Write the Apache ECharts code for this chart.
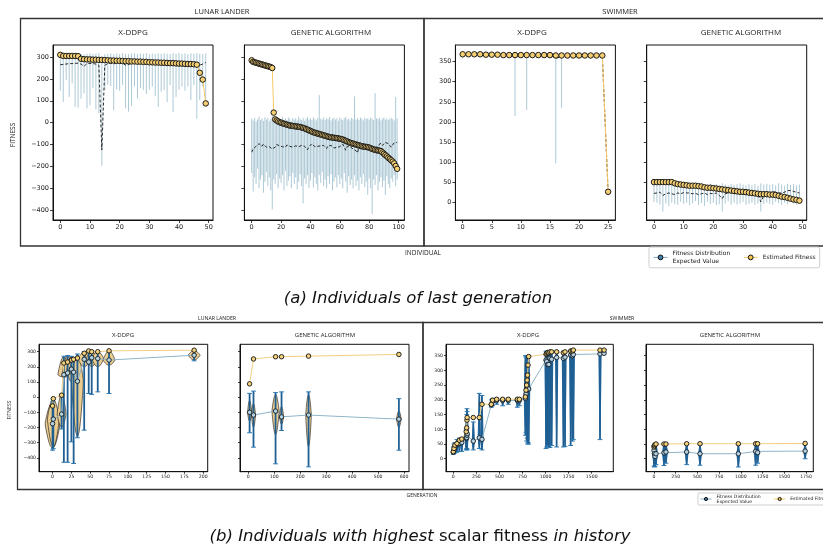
<!DOCTYPE html>
<html>
<head>
<meta charset="utf-8">
<script src="https://cdn.jsdelivr.net/npm/echarts@6/dist/echarts.min.js"></script>
<style>
  html, body { margin: 0; padding: 0; background: #fff; }
  #chart { width: 823px; height: 548px; }
</style>
</head>
<body>
<div id="chart"></div>
<script>
// ---------- (a) individuals of last generation ----------
const lunarFitTicks = [-400, -300, -200, -100, 0, 100, 200, 300];
const swimFitTicks = [0, 50, 100, 150, 200, 250, 300, 350];
const indivTicks50 = [0, 10, 20, 30, 40, 50];
const indivTicks100 = [0, 20, 40, 60, 80, 100];
const indivTicks25 = [0, 5, 10, 15, 20, 25];

const lunarDdpgEst = [
  310, 305, 305, 305, 305, 305, 304, 292, 290, 289,
  289, 288, 288, 287, 287, 286, 285, 284, 284, 283,
  283, 282, 281, 281, 280, 280, 279, 279, 278, 278,
  276, 276, 275, 275, 274, 274, 273, 272, 272, 271,
  270, 270, 269, 268, 268, 267, 265, 228, 197, 88];
const lunarDdpgExp = [
  265, 266, 268, 270, 270, 271, 272, 268, 258, 270,
  271, 270, 268, 262, -125, 262, 270, 272, 268, 274,
  270, 272, 262, 266, 270, 272, 268, 274, 272, 276,
  272, 276, 274, 270, 272, 268, 270, 266, 262, 268,
  270, 266, 268, 264, 266, 262, 262, 263, 268, 276];
const lunarDdpgLow = [
  146, 95, 195, 118, 180, 72, 69, 110, 134, 65,
  80, 157, 60, 42, -197, 150, 172, 168, 57, 152,
  146, 172, 65, 50, 75, 165, 110, 157, 150, 131,
  150, 165, 122, 72, 142, 150, 95, 172, 49, 118,
  150, 165, 146, 165, 103, 172, 18, 103, 165, 103];
const lunarDdpgHigh = [
  312, 316, 314, 318, 315, 313, 316, 314, 312, 315,
  317, 314, 316, 318, 300, 313, 315, 317, 312, 316,
  314, 318, 315, 313, 316, 317, 314, 316, 315, 318,
  313, 316, 314, 317, 315, 318, 316, 314, 318, 315,
  320, 314, 316, 313, 317, 315, 318, 316, 314, 317];

const lunarGaEst = [
  285, 278, 276, 274, 272, 270, 268, 266, 264, 262,
  260, 258, 256, 254, 250, 46, 15, 10, 6, 2,
  0, -3, -5, -7, -9, -11, -13, -14, -15, -16,
  -17, -18, -19, -20, -22, -24, -26, -29, -32, -35,
  -38, -41, -44, -46, -48, -50, -52, -54, -56, -58,
  -60, -62, -64, -66, -67, -68, -69, -70, -71, -72,
  -74, -75, -77, -80, -83, -86, -89, -92, -94, -96,
  -98, -100, -102, -104, -106, -108, -109, -110, -111, -112,
  -114, -117, -120, -122, -124, -126, -127, -128, -130, -136,
  -142, -148, -154, -160, -166, -172, -178, -186, -198, -211];
const lunarGaExp = [
  -135, -120, -112, -108, -100, -96, -102, -108, -98, -104,
  -112, -118, -110, -104, -120, -128, -112, -100, -98, -106,
  -104, -110, -118, -112, -102, -96, -108, -104, -112, -118,
  -106, -100, -110, -114, -104, -98, -108, -112, -124, -110,
  -102, -96, -104, -110, -116, -108, -100, -106, -112, -104,
  -110, -118, -106, -98, -104, -110, -116, -108, -112, -120,
  -110, -104, -98, -112, -126, -108, -102, -110, -114, -120,
  -118, -128, -138, -112, -106, -110, -116, -104, -112, -108,
  -114, -122, -110, -106, -118, -112, -104, -98, -94, -104,
  -110, -90, -88, -96, -100, -112, -104, -92, -100, -90];
const lunarGaLow = [
  -230, -315, -250, -280, -210, -300, -260, -240, -320, -270,
  -225, -290, -250, -310, -397, -260, -280, -235, -300, -255,
  -275, -240, -310, -220, -290, -265, -245, -300, -230, -280,
  -250, -305, -270, -235, -290, -369, -255, -280, -240, -300,
  -265, -230, -295, -250, -280, -310, -240, -275, -225, -290,
  -260, -300, -245, -280, -235, -310, -270, -250, -295, -240,
  -280, -255, -300, -230, -270, -320, -245, -285, -260, -300,
  -240, -290, -265, -310, -250, -280, -235, -295, -270, -330,
  -255, -300, -417, -260, -285, -240, -310, -270, -250, -295,
  -265, -330, -245, -280, -300, -255, -270, -240, -290, -260];
const lunarGaHigh = [
  18, 10, 22, 5, 15, 28, 12, 20, 8, 25,
  14, 22, 6, 18, 30, 12, 24, 10, 20, 16,
  8, 26, 14, 20, 12, 24, 18, 6, 22, 14,
  20, 10, 28, 16, 12, 22, 8, 18, 26, 14,
  20, 12, 24, 16, 10, 22, 126, 18, 14, 24,
  12, 20, 16, 26, 10, 18, 22, 14, 20, 8,
  24, 16, 12, 20, 26, 14, 18, 10, 22, 16,
  120, 14, 20, 12, 24, 18, 10, 22, 16, 20,
  14, 24, 18, 12, 135, 20, 16, 22, 10, 18,
  24, 14, 20, 12, 18, 22, 16, 10, 117, 20];

const swimDdpgEst = [368, 368, 368, 368, 367, 367, 367, 366, 366, 366, 366, 366, 366,
  366, 366, 366, 365, 365, 365, 365, 365, 365, 365, 365, 365, 27];
const swimDdpgExp = [366, 366, 366, 366, 366, 366, 366, 366, 366, 362, 366, 364, 366,
  366, 366, 366, 358, 362, 366, 366, 366, 366, 366, 366, 365, 25];
const swimDdpgLow = [360, 362, 362, 362, 362, 362, 362, 362, 362, 215, 362, 230, 362,
  362, 362, 362, 98, 235, 362, 362, 362, 362, 362, 362, 358, 18];
const swimDdpgHigh = [372, 372, 372, 372, 371, 371, 371, 371, 371, 371, 371, 371, 371,
  371, 371, 371, 371, 371, 371, 371, 371, 371, 371, 371, 371, 32];

const swimGaEst = [
  51, 51, 51, 51, 51, 51, 51, 48, 46, 45,
  44, 43, 42, 42, 42, 41, 40, 38, 37, 37,
  36, 35, 34, 33, 32, 31, 30, 29, 28, 27,
  27, 26, 25, 24, 23, 22, 21, 21, 21, 20,
  20, 19, 17, 15, 14, 12, 10, 8, 7, 5];
const swimGaExp = [
  23, 24, 26, 18, 22, 24, 22, 20, 24, 22,
  25, 24, 24, 22, 23, 20, 22, 24, 20, 23,
  22, 24, 18, 10, 22, 24, 26, 22, 24, 25,
  24, 22, 23, 24, 22, 20, 2, 18, 22, 24,
  28, 26, 24, 24, 26, 30, 30, 28, 26, 24];
const swimGaLow = [
  2, 0, -5, -22, -2, -8, 0, -4, -6, 2,
  -3, 0, -6, -2, 4, -5, -1, -8, 2, -3,
  0, -6, -4, -22, -2, 3, -5, 0, -4, -2,
  2, -6, -3, 0, -5, -2, -22, -4, 0, -3,
  -5, 2, -2, -6, 0, -4, 3, -2, -5, 0];
const swimGaHigh = [
  46, 44, 48, 42, 45, 47, 43, 46, 44, 48,
  45, 43, 47, 44, 46, 42, 48, 45, 43, 47,
  44, 46, 42, 48, 45, 43, 47, 44, 46, 48,
  45, 43, 47, 44, 46, 42, 48, 45, 47, 44,
  46, 43, 48, 45, 42, 47, 44, 46, 43, 45];

// ---------- (b) best individuals in history ----------
const genTicksLunarDdpg = [0, 25, 50, 75, 100, 125, 150, 175, 200];
const genTicksLunarGa = [0, 100, 200, 300, 400, 500, 600];
const genTicksSwimDdpg = [0, 250, 500, 750, 1000, 1250, 1500];
const genTicksSwimGa = [0, 250, 500, 750, 1000, 1250, 1500, 1750];

const histLunarDdpgGen = [0, 1, 12, 15, 20, 25, 28, 33, 42, 48, 52, 60, 75, 188];
const histLunarDdpgEst = [-58, -10, 13, 225, 232, 245, 250, 258, 290, 305, 300, 300, 306, 310];
const histLunarDdpgExp = [-175, -145, -112, 148, 160, 185, 165, 105, 250, 232, 260, 255, 245, 277];
const histLunarDdpgLow = [-350, -340, -210, -430, -430, -295, -438, -268, -218, 24, 18, 35, 24, 240];
const histLunarDdpgHigh = [-30, -10, 20, 270, 275, 270, 255, 285, 300, 305, 300, 300, 305, 310];
const histLunarDdpgBodyLow = [-340, -330, -200, 130, 140, 100, 150, -265, 200, 230, 200, 200, 210, 245];
const histLunarDdpgBodyHigh = [-30, -10, 20, 270, 275, 270, 255, 285, 300, 305, 300, 300, 305, 308];
const histLunarDdpgWidth = [20, 16, 12, 16, 14, 12, 12, 16, 16, 14, 14, 16, 16, 16];

const histLunarGaGen = [5, 20, 105, 128, 232, 580];
const histLunarGaEst = [88, 252, 267, 267, 271, 282];
const histLunarGaExp = [-100, -118, -92, -130, -118, -145];
const histLunarGaLow = [-235, -330, -440, -220, -460, -350];
const histLunarGaHigh = [25, 40, 30, 35, 35, -10];
const histLunarGaBodyLow = [-160, -200, -250, -180, -330, -200];
const histLunarGaBodyHigh = [-20, -40, 20, -60, 20, -90];
const histLunarGaWidth = [16, 16, 28, 16, 22, 18];

const histSwimDdpgGen = [0, 8, 18, 40, 66, 92, 140, 145, 148, 150, 217, 282, 311, 412, 426, 470, 535, 596,
  694, 716, 781, 788, 795, 800, 805, 810, 817, 1005, 1012, 1023, 1035, 1048, 1066, 1120, 1193, 1211,
  1272, 1290, 1301, 1590, 1634];
const histSwimDdpgEst = [24, 35, 46, 52, 63, 67, 92, 105, 131, 140, 140, 140, 185, 185, 199, 202, 202, 202,
  202, 202, 210, 233, 250, 267, 284, 318, 347, 355, 358, 361, 360, 363, 363, 363, 360, 363,
  366, 366, 369, 369, 369];
const histSwimDdpgExp = [22, 30, 41, 48, 52, 55, 69, 72, 80, 85, 60, 71, 66, 183, 195, 198, 198, 198,
  198, 198, 205, 220, 236, 238, 240, 238, 237, 335, 330, 320, 320, 341, 338, 344, 341, 345,
  352, 350, 354, 356, 358];
const histSwimDdpgLow = [15, 18, 20, 22, 25, 25, 30, 35, 32, 30, 30, 35, 30, 175, 180, 185, 180, 185,
  175, 180, 80, 90, 60, 70, 50, 55, 50, 35, 40, 45, 40, 38, 45, 40, 40, 42,
  45, 60, 65, 65, 362];
const histSwimDdpgHigh = [40, 50, 55, 65, 70, 70, 100, 150, 170, 160, 125, 222, 215, 200, 205, 205, 205, 205,
  205, 205, 350, 345, 350, 345, 350, 345, 350, 365, 365, 365, 365, 365, 365, 365, 365, 365,
  368, 368, 370, 368, 371];

const histSwimGaGen = [0, 5, 12, 23, 115, 138, 376, 530, 971, 1170, 1193, 1740];
const histSwimGaEst = [40, 44, 48, 50, 50, 50, 51, 51, 51, 51, 51, 52];
const histSwimGaExp = [28, 17, 8, 17, 20, 23, 23, 17, 17, 25, 21, 26];
const histSwimGaLow = [-25, -28, -26, -20, -23, -15, -20, -22, -28, -22, -15, 0];
const histSwimGaHigh = [45, 48, 50, 52, 52, 52, 50, 48, 48, 52, 52, 48];

const EXP = 'Fitness Distribution\nExpected Value';
const EST = 'Estimated Fitness';

const chart = echarts.init(document.getElementById('chart'));

const minus = (v) => String(v).replace('-', '\u2212');

// grid boxes: [left, top, width, height]
const grids = [
  [53, 45, 160, 175], [244.4, 45, 160, 175], [455.4, 45, 160, 175], [646.7, 45, 160, 175],
  [39, 344.3, 168.7, 127.4], [240, 344.3, 169, 127.4], [446, 344.3, 167.3, 127.4], [646, 344.3, 167.3, 127.4]
];
const xSpec = [
  [-2.45, 51.45, indivTicks50], [-4.95, 103.95, indivTicks100], [-1.25, 26.25, indivTicks25], [-2.45, 51.45, indivTicks50],
  [-18, 206, genTicksLunarDdpg], [-32, 619, genTicksLunarGa], [-79, 1734, genTicksSwimDdpg], [-92, 1834, genTicksSwimGa]
];
const ySpec = [
  [-445, 355, lunarFitTicks, true], [-445, 355, lunarFitTicks, false],
  [-43, 391, swimFitTicks, true], [-43, 391, swimFitTicks, false],
  [-492, 349, lunarFitTicks, true], [-492, 349, lunarFitTicks, false],
  [-44, 388.7, swimFitTicks, true], [-44, 388.7, swimFitTicks, false]
];

const tickFont = (i) => (i < 4 ? 6.5 : 4.6);

function rangeLine(params, api) {
  const x = api.value(0);
  const a = api.coord([x, api.value(1)]);
  const b = api.coord([x, api.value(2)]);
  return {
    type: 'line',
    shape: { x1: a[0], y1: a[1], x2: b[0], y2: b[1] },
    style: { stroke: '#adc9d6', lineWidth: 1 }
  };
}

function capRange(params, api) {
  const x = api.value(0);
  const a = api.coord([x, api.value(1)]);
  const b = api.coord([x, api.value(2)]);
  const c = 2.4;
  const cap = { stroke: '#2b78b2', lineWidth: 1 };
  return {
    type: 'group',
    children: [
      { type: 'line', shape: { x1: a[0], y1: a[1], x2: b[0], y2: b[1] }, style: { stroke: '#1f5f93', lineWidth: 1.8 } },
      { type: 'line', shape: { x1: a[0] - c, y1: a[1], x2: a[0] + c, y2: a[1] }, style: cap },
      { type: 'line', shape: { x1: b[0] - c, y1: b[1], x2: b[0] + c, y2: b[1] }, style: cap }
    ]
  };
}

function violin(fill, stroke) {
  return function (params, api) {
    const x = api.value(0), lo = api.value(1), hi = api.value(2);
    const mid = Math.min(Math.max(api.value(3), lo), hi);
    const half = api.size([api.value(4), 0])[0] / 2;
    const right = [], left = [];
    const n = 16;
    for (let k = 0; k <= n; k++) {
      const v = lo + (hi - lo) * k / n;
      const t = v <= mid ? (v - lo) / Math.max(mid - lo, 1e-6) : (hi - v) / Math.max(hi - mid, 1e-6);
      const h = half * Math.pow(Math.max(t, 0), 0.55);
      const p = api.coord([x, v]);
      right.push([p[0] + h, p[1]]);
      left.unshift([p[0] - h, p[1]]);
    }
    return {
      type: 'polygon',
      shape: { points: right.concat(left) },
      style: { fill: fill, stroke: stroke, lineWidth: stroke ? 0.6 : 0 }
    };
  };
}

function histPanel(i, gen, est, exp, low, high, bLow, bHigh, width, bodyFill, bodyStroke) {
  return [
    {
      type: 'custom', xAxisIndex: i, yAxisIndex: i, silent: true,
      data: gen.map((g, k) => [g, bLow[k], bHigh[k], exp[k], width[k]]),
      renderItem: violin(bodyFill, bodyStroke)
    },
    {
      type: 'custom', xAxisIndex: i, yAxisIndex: i, silent: true,
      data: gen.map((g, k) => [g, low[k], high[k]]),
      renderItem: capRange
    },
    {
      type: 'line', name: EXP, xAxisIndex: i, yAxisIndex: i,
      data: gen.map((g, k) => [g, exp[k]]),
      symbol: 'circle', symbolSize: 4.5,
      lineStyle: { color: '#8fb4c8', width: 1 },
      itemStyle: { color: '#b7d0dd', borderColor: '#0f1d28', borderWidth: 0.9 }
    },
    {
      type: 'line', name: EST, xAxisIndex: i, yAxisIndex: i,
      data: gen.map((g, k) => [g, est[k]]),
      symbol: 'circle', symbolSize: 4.5,
      lineStyle: { color: '#f3cf82', width: 1 },
      itemStyle: { color: '#f4d27c', borderColor: '#111', borderWidth: 0.9 }
    }
  ];
}

function lastGenPanel(i, est, exp, low, high) {
  return [
    {
      type: 'custom', xAxisIndex: i, yAxisIndex: i, silent: true,
      data: low.map((v, k) => [k, v, high[k]]),
      renderItem: rangeLine
    },
    {
      type: 'line', name: EXP, xAxisIndex: i, yAxisIndex: i,
      data: exp.map((v, k) => [k, v]),
      symbol: 'none',
      lineStyle: { color: '#111', width: 0.9, type: [3, 2] }
    },
    {
      type: 'line', name: EST, xAxisIndex: i, yAxisIndex: i,
      data: est.map((v, k) => [k, v]),
      symbol: 'circle', symbolSize: 5.5,
      lineStyle: { color: '#f6c965', width: 1 },
      itemStyle: { color: '#f5cf72', borderColor: '#1a1a1a', borderWidth: 1 }
    }
  ];
}

const histWidthSwimDdpg = histSwimDdpgGen.map(() => 35);
const histWidthSwimGa = histSwimGaGen.map(() => 45);

const series = [].concat(
  histPanel(4, histLunarDdpgGen, histLunarDdpgEst, histLunarDdpgExp, histLunarDdpgLow, histLunarDdpgHigh,
    histLunarDdpgBodyLow, histLunarDdpgBodyHigh, histLunarDdpgWidth, '#ebcd91', '#111'),
  histPanel(5, histLunarGaGen, histLunarGaEst, histLunarGaExp, histLunarGaLow, histLunarGaHigh,
    histLunarGaBodyLow, histLunarGaBodyHigh, histLunarGaWidth, '#ebcd91', '#111'),
  histPanel(6, histSwimDdpgGen, histSwimDdpgEst, histSwimDdpgExp, histSwimDdpgLow, histSwimDdpgHigh,
    histSwimDdpgLow, histSwimDdpgHigh, histWidthSwimDdpg, '#24679c', null),
  histPanel(7, histSwimGaGen, histSwimGaEst, histSwimGaExp, histSwimGaLow, histSwimGaHigh,
    histSwimGaLow, histSwimGaHigh, histWidthSwimGa, '#2a6ea3', null),
  lastGenPanel(0, lunarDdpgEst, lunarDdpgExp, lunarDdpgLow, lunarDdpgHigh),
  lastGenPanel(1, lunarGaEst, lunarGaExp, lunarGaLow, lunarGaHigh),
  lastGenPanel(2, swimDdpgEst, swimDdpgExp, swimDdpgLow, swimDdpgHigh),
  lastGenPanel(3, swimGaEst, swimGaExp, swimGaLow, swimGaHigh)
);

const text = (x, y, s, size, extra) => Object.assign({
  type: 'text', x: x, y: y, silent: true,
  style: {
    text: s, fill: '#222', align: 'center', verticalAlign: 'middle',
    textAlign: 'center', textVerticalAlign: 'middle',
    fontSize: size, fontFamily: 'Open Sans'
  }
}, extra || {});

const frame = (x, y, w, h) => ({
  type: 'rect', silent: true, shape: { x: x, y: y, width: w, height: h },
  style: { fill: 'none', stroke: '#333', lineWidth: 1.3 }
});

const legendData = [
  { name: EXP, itemStyle: { color: '#3f7fa6', borderColor: '#111', borderWidth: 1 }, lineStyle: { color: '#86adc3', width: 1, type: 'solid' } },
  { name: EST, itemStyle: { color: '#f2c24f', borderColor: '#111', borderWidth: 1 }, lineStyle: { color: '#f6c965', width: 1 } }
];

const captionStyle = { fontStyle: 'italic', fontSize: 16.5, fontFamily: 'DejaVu Sans', fill: '#111', color: '#111' };

chart.setOption({
  animation: false,
  grid: grids.map((g) => ({
    left: g[0], top: g[1], width: g[2], height: g[3], show: true,
    borderColor: '#111', borderWidth: 1, containLabel: false, outerBoundsMode: 'none'
  })),
  xAxis: xSpec.map((s, i) => ({
    type: 'value', gridIndex: i, min: s[0], max: s[1],
    splitLine: { show: false },
    axisLine: { show: true, onZero: false, lineStyle: { color: '#111', width: 1 } },
    axisTick: { show: true, customValues: s[2], length: i < 4 ? 3 : 2, lineStyle: { color: '#111', width: 0.8 } },
    axisLabel: { customValues: s[2], fontSize: tickFont(i), color: '#222', margin: i < 4 ? 4 : 3, fontFamily: 'DejaVu Sans', formatter: minus }
  })),
  yAxis: ySpec.map((s, i) => ({
    type: 'value', gridIndex: i, min: s[0], max: s[1],
    splitLine: { show: false },
    axisLine: { show: true, onZero: false, lineStyle: { color: '#111', width: 1 } },
    axisTick: { show: true, customValues: s[2], length: i < 4 ? 3 : 2, lineStyle: { color: '#111', width: 0.8 } },
    axisLabel: { show: s[3], customValues: s[2], fontSize: tickFont(i), color: '#222', margin: i < 4 ? 4 : 3, fontFamily: 'DejaVu Sans', formatter: minus }
  })),
  legend: [
    {
      left: 649, top: 247, width: 240, orient: 'horizontal', selectedMode: false,
      itemWidth: 14, itemHeight: 6, itemGap: 13, padding: [3, 4],
      backgroundColor: '#fff', borderColor: '#cfcfcf', borderWidth: 1, borderRadius: 2,
      textStyle: { fontSize: 6, lineHeight: 7.4, color: '#222', fontFamily: 'DejaVu Sans' },
      data: legendData
    },
    {
      left: 698, top: 493, width: 200, orient: 'horizontal', selectedMode: false,
      itemWidth: 11, itemHeight: 4, itemGap: 13, padding: [1, 2],
      backgroundColor: '#fff', borderColor: '#cfcfcf', borderWidth: 1, borderRadius: 1,
      textStyle: { fontSize: 4.6, lineHeight: 5, color: '#222', fontFamily: 'DejaVu Sans' },
      data: legendData
    }
  ],
  graphic: {
    elements: [
      frame(20.5, 18.5, 403.5, 227.5),
      frame(424, 18.5, 410, 227.5),
      frame(17.5, 322.5, 405.5, 167),
      frame(423, 322.5, 410, 167),
      text(222, 12, 'LUNAR LANDER', 7.5),
      text(620, 12, 'SWIMMER', 7.5),
      text(133, 33, 'X-DDPG', 8),
      text(331, 33, 'GENETIC ALGORITHM', 8),
      text(532, 33, 'X-DDPG', 8),
      text(741, 33, 'GENETIC ALGORITHM', 8),
      text(13, 135, 'FITNESS', 6.5, { rotation: Math.PI / 2 }),
      text(423, 253, 'INDIVIDUAL', 6.5),
      text(217, 318.5, 'LUNAR LANDER', 5.2),
      text(622, 318.5, 'SWIMMER', 5.2),
      text(123, 335, 'X-DDPG', 6),
      text(325, 335, 'GENETIC ALGORITHM', 6),
      text(528, 335, 'X-DDPG', 6),
      text(730, 335, 'GENETIC ALGORITHM', 6),
      text(10, 410, 'FITNESS', 5, { rotation: Math.PI / 2 }),
      text(422, 496, 'GENERATION', 5),
      {
        type: 'text', x: 418, y: 299, silent: true,
        style: Object.assign({
          text: '(a) Individuals of last generation',
          align: 'center', verticalAlign: 'middle', textAlign: 'center', textVerticalAlign: 'middle'
        }, captionStyle)
      },
      {
        type: 'text', x: 420, y: 537, silent: true,
        style: Object.assign({
          text: '{i|(b) Individuals with highest} {n|scalar fitness} {i|in history}',
          align: 'center', verticalAlign: 'middle', textAlign: 'center', textVerticalAlign: 'middle',
          rich: {
            i: captionStyle,
            n: Object.assign({}, captionStyle, { fontStyle: 'normal' })
          }
        }, captionStyle)
      }
    ]
  },
  series: series
});
</script>
</body>
</html>
